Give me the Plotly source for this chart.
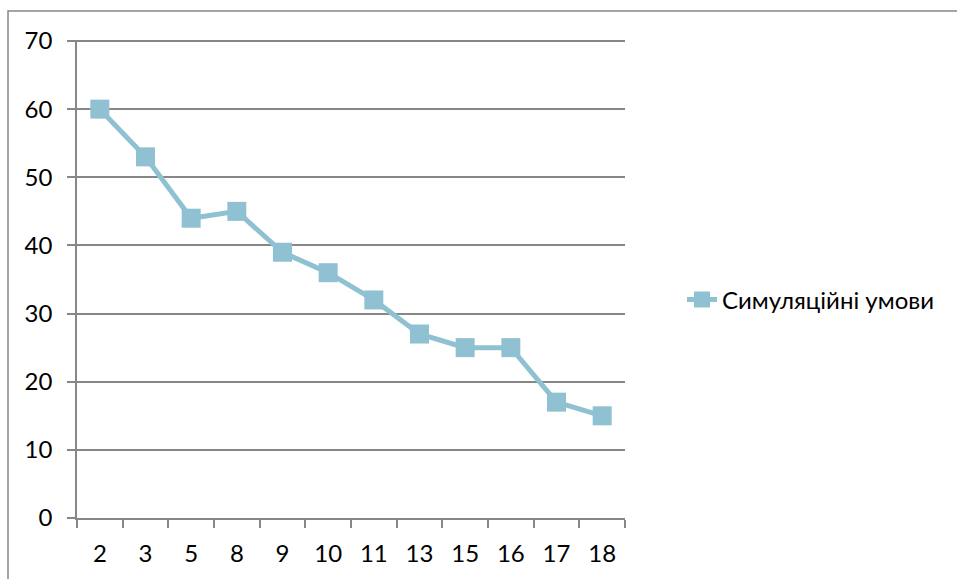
import plotly.graph_objects as go

# Categories and values of the series
categories = ["2", "3", "5", "8", "9", "10", "11", "13", "15", "16", "17", "18"]
values = [60, 53, 44, 45, 39, 36, 32, 27, 25, 25, 17, 15]
series_name = "Симуляційні умови"
y_ticks = [0, 10, 20, 30, 40, 50, 60, 70]

line_color = "#8fc1d3"
grid_color = "#878787"
font_family = "Lato, 'Open Sans', sans-serif"

fig = go.Figure()
fig.add_trace(go.Scatter(
    x=categories,
    y=values,
    name=series_name,
    mode="lines+markers",
    line=dict(color=line_color, width=5),
    marker=dict(symbol="square", size=19, color=line_color,
                line=dict(width=0)),
))

W, H = 957, 579
ml, mr, mt, mb = 77, 332, 40, 59
pw = W - ml - mr
ph = H - mt - mb

# Outer chart border (partly beyond the page edges)
fig.add_shape(type="rect", xref="paper", yref="paper",
              x0=(8 - ml) / pw, x1=(W + 20 - ml) / pw,
              y0=(H - mb - (H + 20)) / ph, y1=(H - mb - 11) / ph,
              line=dict(color=grid_color, width=1.5), fillcolor="rgba(0,0,0,0)",
              layer="below")

fig.update_layout(
    width=W, height=H,
    margin=dict(l=ml, r=mr, t=mt, b=mb, pad=0),
    paper_bgcolor="white",
    plot_bgcolor="white",
    font=dict(family=font_family, size=24, color="#000000"),
    showlegend=True,
    legend=dict(x=(682 - ml) / pw, y=(H - mb - 301) / ph, xanchor="left", yanchor="middle",
                font=dict(family=font_family, size=24, color="#000000"),
                bgcolor="rgba(0,0,0,0)"),
    xaxis=dict(
        type="category",
        range=[-0.5, len(categories) - 0.5],
        showgrid=False,
        showline=True, linecolor=grid_color, linewidth=1.5,
        ticks="outside", tickson="boundaries", ticklen=8, tickwidth=1.5,
        tickcolor=grid_color,
        tickfont=dict(family=font_family, size=24, color="#000000"),
        ticklabelstandoff=13,
        zeroline=False,
        fixedrange=True,
    ),
    yaxis=dict(
        range=[0, 70.15],
        tickvals=y_ticks,
        showgrid=True, gridcolor=grid_color, gridwidth=1.5,
        showline=True, linecolor=grid_color, linewidth=1.5,
        ticks="outside", ticklen=8, tickwidth=1.5, tickcolor=grid_color,
        tickfont=dict(family=font_family, size=24, color="#000000"),
        zeroline=False,
        ticklabelstandoff=10,
        fixedrange=True,
    ),
)

fig.write_html("out.html")
